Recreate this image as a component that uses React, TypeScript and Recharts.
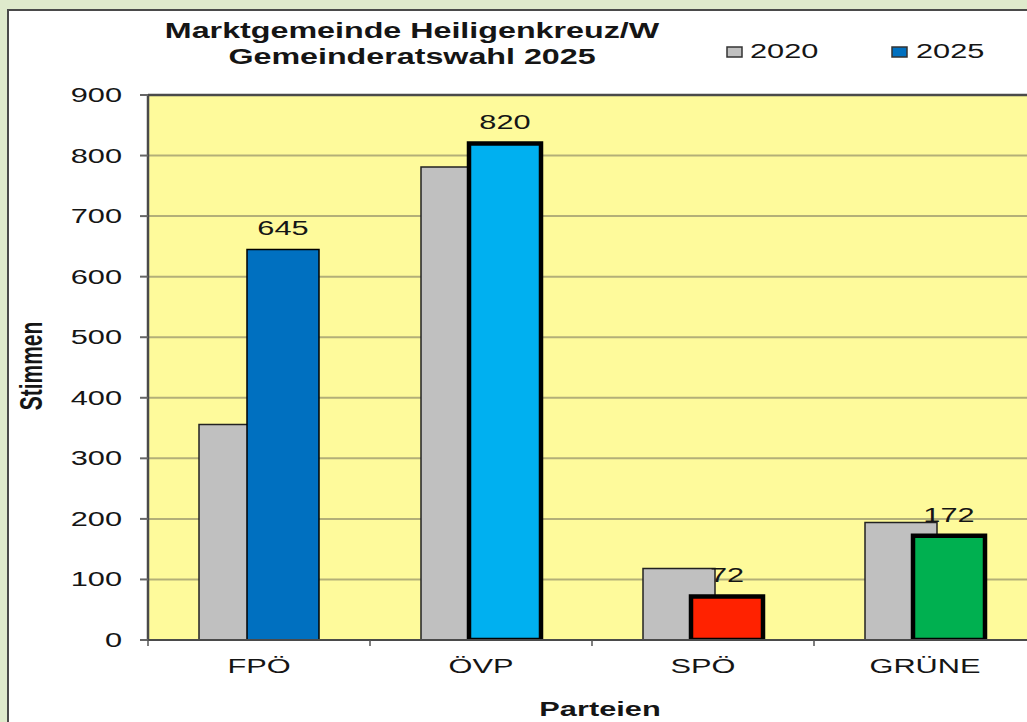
import React from 'react';
import { BarChart, Bar, XAxis, YAxis, CartesianGrid, Cell, LabelList, ReferenceLine } from 'recharts';

const categories = ['FPÖ', 'ÖVP', 'SPÖ', 'GRÜNE'];
const votes2020 = [356, 781, 118, 194];
const votes2025 = [645, 820, 72, 172];
const colors2025 = ['#0070c0', '#00b0f0', '#ff2200', '#00b050'];
const strokeWidths2025 = [1.5, 4.5, 4.5, 4.5];
const yTicks = [0, 100, 200, 300, 400, 500, 600, 700, 800, 900];
const titleLines = ['Marktgemeinde Heiligenkreuz/W', 'Gemeinderatswahl 2025'];
const seriesNames = ['2020', '2025'];
const yAxisTitle = 'Stimmen';
const xAxisTitle = 'Parteien';

const data = categories.map((c, i) => ({ party: c, v2020: votes2020[i], v2025: votes2025[i] }));

const FONT = '"Liberation Sans", Arial, sans-serif';
const SX = 1.5;

const SText = ({ x, y, children, anchor = 'middle', size = 20.5, bold = false, rotate = 0 }: any) => (
  <g transform={`translate(${x},${y}) scale(${SX},1) rotate(${rotate})`}>
    <text x={0} y={0} textAnchor={anchor} fontSize={size} fontWeight={bold ? 'bold' : 'normal'} fontFamily={FONT} fill="#151515">
      {children}
    </text>
  </g>
);

const XTick = (props: any) => {
  const { x, y, payload, index } = props;
  const half = payload && typeof payload.offset === 'number' && payload.offset > 0 ? payload.offset : 111;
  return (
    <g>
      <line x1={x - half} x2={x - half} y1={y} y2={y + 6} stroke="#555" strokeWidth={1.5} />
      {index === categories.length - 1 && (
        <line x1={x + half} x2={x + half} y1={y} y2={y + 6} stroke="#555" strokeWidth={1.5} />
      )}
      <SText x={x} y={y + 33}>{payload.value}</SText>
    </g>
  );
};

const YTick = (props: any) => {
  const { x, y, payload } = props;
  return <SText x={x} y={y + 7} anchor="end">{payload.value}</SText>;
};

const TopLabel = (props: any) => {
  const { x, y, width, value } = props;
  return <SText x={x + width / 2} y={y - 14}>{value}</SText>;
};

export default function App() {
  return (
    <div style={{ position: 'fixed', left: 0, top: 0, width: 1027, height: 722, overflow: 'hidden', background: '#dfeacc' }}>
      <div style={{ position: 'absolute', left: 7, top: 9, width: 1100, height: 800, background: '#ffffff', borderLeft: '2px solid #4a4a4a', borderTop: '2px solid #4a4a4a' }} />
      <div style={{ position: 'absolute', left: 0, top: 0 }}>
        <BarChart
          width={1100}
          height={722}
          data={data}
          margin={{ top: 95, right: 64, bottom: 22, left: 8 }}
          barSize={72}
          barGap={-24}
        >
          <CartesianGrid vertical={false} stroke="#b3af78" strokeWidth={2} fill="#fefa9b" fillOpacity={1} />
          <XAxis
            dataKey="party"
            height={60}
            tickSize={0}
            tickMargin={0}
            tickLine={false}
            axisLine={{ stroke: '#4a4a4a', strokeWidth: 2 }}
            tick={<XTick />}
            interval={0}
          />
          <YAxis
            width={140}
            domain={[0, 900]}
            ticks={yTicks}
            tickSize={8}
            tickMargin={18}
            tickLine={{ stroke: '#666', strokeWidth: 2 }}
            axisLine={{ stroke: '#4a4a4a', strokeWidth: 2.5 }}
            tick={<YTick />}
            allowDataOverflow
          />
          <ReferenceLine y={900} stroke="#4a4a4a" strokeWidth={2.5} />
          <Bar dataKey="v2020" fill="#c0c0c0" stroke="#222" strokeWidth={1.5} isAnimationActive={false} />
          <Bar dataKey="v2025" isAnimationActive={false}>
            {data.map((d, i) => (
              <Cell key={d.party} fill={colors2025[i]} stroke="#000" strokeWidth={strokeWidths2025[i]} />
            ))}
            <LabelList dataKey="v2025" content={<TopLabel />} />
          </Bar>
        </BarChart>
      </div>
      <svg width={1027} height={722} style={{ position: 'absolute', left: 0, top: 0, pointerEvents: 'none' }}>
        <SText x={412} y={38} size={21.5} bold>{titleLines[0]}</SText>
        <SText x={412} y={64} size={21.5} bold>{titleLines[1]}</SText>
        <rect x={727} y={47} width={15} height={10} fill="#c0c0c0" stroke="#333" strokeWidth={1.5} />
        <SText x={750} y={58} anchor="start">{seriesNames[0]}</SText>
        <rect x={892} y={47} width={15} height={10} fill="#0070c0" stroke="#333" strokeWidth={1.5} />
        <SText x={916} y={58} anchor="start">{seriesNames[1]}</SText>
        <SText x={42} y={366} size={21} bold rotate={-90}>{yAxisTitle}</SText>
        <SText x={600} y={716} size={20.5} bold>{xAxisTitle}</SText>
      </svg>
    </div>
  );
}
